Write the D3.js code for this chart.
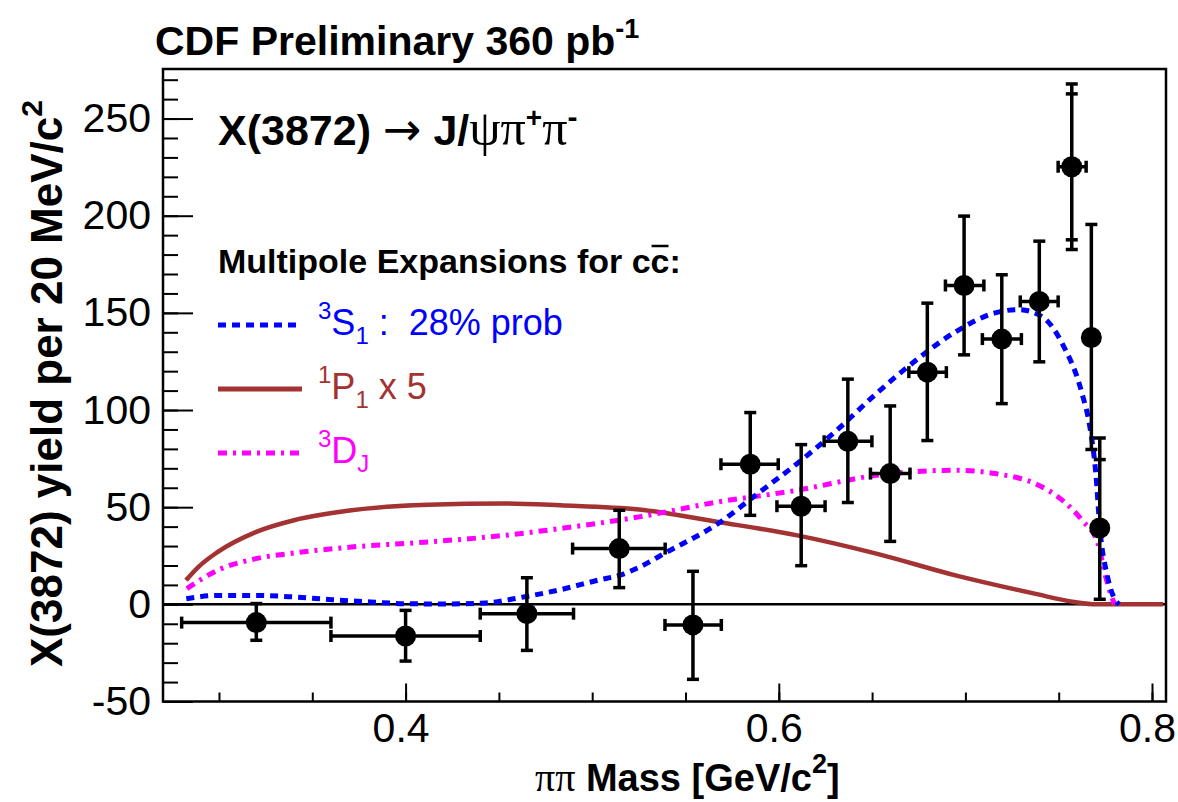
<!DOCTYPE html>
<html><head><meta charset="utf-8">
<script src="https://cdn.jsdelivr.net/npm/d3@7"></script>
<style>body{margin:0;background:#fff}svg{display:block}</style>
</head><body><svg id="chart" width="1178" height="802"></svg>
<script>
// ---- data ----
const massCenter = [0.32,0.40,0.465,0.5145,0.554,0.5847,0.612,0.637,0.6597,0.6796,0.6993,0.7195,0.7396,0.757,0.7675,0.772];
const massLow    = [0.28,0.36,0.44,0.4895,0.539,0.569,0.599,0.6243,0.6491,0.6697,0.6893,0.7091,0.7294,0.7497,0.7675,0.772];
const massHigh   = [0.36,0.44,0.49,0.5391,0.5692,0.5997,0.6248,0.6499,0.6703,0.6898,0.7099,0.73,0.7497,0.7647,0.7675,0.772];
const yieldVal   = [-9.4,-16.3,-4.8,28.7,-10.6,72.1,50.5,83.9,67.3,119.5,164.1,136.5,155.9,225.2,137.3,39.3];
const yieldLow   = [-18.5,-29.2,-23.7,8.6,-38.6,45.8,19.9,52.4,32.4,84.3,128.4,103.3,124.8,182.6,79.7,2.6];
const yieldHigh  = [0.4,-3.1,13.7,48.4,17,98.7,82.2,115.9,102.1,155,199.8,169.6,186.9,267.8,195.5,85.6];
const innerLow   = [null,null,null,null,null,null,null,null,null,null,null,null,null,187.6,null,null];
const innerHigh  = [null,null,null,null,null,null,null,null,null,null,null,null,null,262.7,null,74.5];

const s1Mass  = [0.2825,0.2992,0.3197,0.3402,0.3607,0.3812,0.4017,0.4222,0.4427,0.4632,0.4828,0.5042,0.5145,0.5248,0.54,0.5675,0.5887,0.6099,0.6311,0.6523,0.6735,0.6947,0.7159,0.7286,0.7413,0.7519,0.7625,0.7667,0.7699,0.772,0.7762,0.7804,0.7825];
const s1Yield = [2.9,4.6,4.6,3.8,2.4,1.2,0.3,0.2,0.7,3.8,7.5,12.7,14.9,18.9,26.9,41.6,57,72.5,89.6,108.5,125.6,140.2,150,151.7,147.9,134.2,108.5,91.3,67.3,39.8,14.1,2.1,0];

const p1Mass  = [0.2823,0.2889,0.2992,0.3197,0.3402,0.371,0.412,0.453,0.4828,0.5251,0.5675,0.6099,0.6523,0.6947,0.7371,0.7583,0.77,0.806];
const p1Yield = [12.4,19.2,26.9,37.2,43.3,48.4,51.3,51.9,51.0,48.8,42.4,35.5,26.1,14.9,5.5,1.2,0,0];

const dMass   = [0.2828,0.2992,0.3197,0.3402,0.371,0.412,0.453,0.4828,0.5251,0.5675,0.6099,0.6523,0.6947,0.7159,0.7371,0.7519,0.7625,0.771,0.7752,0.7784,0.78];
const dYield  = [8.1,17.5,23.5,26.4,29.5,32.1,35.5,39.0,45,52.7,58.7,66.4,69,67.3,62.2,53.6,43.3,31.3,14.1,3.8,0];

const yMajorTicks = [-50,0,50,100,150,200,250];
const xMajorTicks = [0.4,0.6,0.8];

// ---- layout ----
const W = 1178, H = 802;
const margin = {left:163, right:12, top:69, bottom:100.5};
const svg = d3.select("#chart");
svg.append("rect").attr("width",W).attr("height",H).attr("fill","#fff");

const x = d3.scaleLinear().domain([0.27,0.8075]).range([margin.left, W-margin.right]);
const y = d3.scaleLinear().domain([-50,275.5]).range([H-margin.bottom, margin.top]);

const SANS = "'Liberation Sans', Arial, Helvetica, sans-serif";
const SERIF = "'Liberation Serif', 'Times New Roman', serif";

// ---- axes ----
const yMinor = d3.range(-50, 276, 10);
const xMinor = d3.range(0.30, 0.8051, 0.05);

const gyMin = svg.append("g").attr("transform",`translate(${margin.left},0)`)
  .call(d3.axisLeft(y).tickValues(yMinor).tickSize(-15).tickFormat(""));
const gy = svg.append("g").attr("transform",`translate(${margin.left},0)`)
  .call(d3.axisLeft(y).tickValues(yMajorTicks).tickSize(-30).tickPadding(12).tickFormat(d=>String(d)));
const gxMin = svg.append("g").attr("transform",`translate(0,${H-margin.bottom})`)
  .call(d3.axisBottom(x).tickValues(xMinor).tickSize(-9).tickFormat(""));
const gx = svg.append("g").attr("transform",`translate(0,${H-margin.bottom})`)
  .call(d3.axisBottom(x).tickValues(xMajorTicks).tickSize(-18).tickPadding(11).tickFormat(d3.format(".1f")));
[gyMin,gy,gxMin,gx].forEach(g=>{
  g.select(".domain").remove();
  g.selectAll(".tick line").attr("stroke","#000").attr("stroke-width",2);
});
gy.selectAll(".tick text").attr("font-family",SANS).attr("font-size",41).attr("fill","#000").attr("dy","0.32em");
gx.selectAll(".tick text").attr("font-family",SANS).attr("font-size",41).attr("fill","#000").attr("dx",-5);

// frame
svg.append("rect").attr("x",margin.left).attr("y",margin.top)
  .attr("width",W-margin.left-margin.right).attr("height",H-margin.top-margin.bottom)
  .attr("fill","none").attr("stroke","#000").attr("stroke-width",2.5);

// zero line
svg.append("line").attr("x1",x(0.27)).attr("x2",x(0.8075)).attr("y1",y(0)).attr("y2",y(0))
  .attr("stroke","#000").attr("stroke-width",2.5);

// ---- curves ----
const line = d3.line().x(d=>x(d[0])).y(d=>y(d[1])).curve(d3.curveMonotoneX);
const BLUE="#0000ff", BROWN="#a33232", MAG="#ff00ff";
svg.append("path").datum(p1Mass.map((m,i)=>[m,p1Yield[i]])).attr("d",line)
  .attr("fill","none").attr("stroke",BROWN).attr("stroke-width",4.5);
svg.append("path").datum(dMass.map((m,i)=>[m,dYield[i]])).attr("d",line)
  .attr("fill","none").attr("stroke",MAG).attr("stroke-width",5).attr("stroke-dasharray","9,6,3,6");
svg.append("path").datum(s1Mass.map((m,i)=>[m,s1Yield[i]])).attr("d",line)
  .attr("fill","none").attr("stroke",BLUE).attr("stroke-width",5).attr("stroke-dasharray","8,6");

// ---- data points ----
const pts = massCenter.map((m,i)=>({m, lo:massLow[i], hi:massHigh[i], v:yieldVal[i], ylo:yieldLow[i], yhi:yieldHigh[i], ilo:innerLow[i], ihi:innerHigh[i]}));
const gp = svg.append("g").attr("stroke","#000").attr("stroke-width",3.5);
const cap = 6;
pts.forEach(p=>{
  const cx = x(p.m), cy = y(p.v);
  gp.append("line").attr("x1",cx).attr("x2",cx).attr("y1",y(p.ylo)).attr("y2",y(p.yhi));
  [p.ylo,p.yhi,p.ilo,p.ihi].forEach(v=>{ if(v!==null) gp.append("line").attr("x1",cx-cap).attr("x2",cx+cap).attr("y1",y(v)).attr("y2",y(v)); });
  if (p.hi > p.lo) {
    gp.append("line").attr("x1",x(p.lo)).attr("x2",x(p.hi)).attr("y1",cy).attr("y2",cy);
    [p.lo,p.hi].forEach(v=> gp.append("line").attr("x1",x(v)).attr("x2",x(v)).attr("y1",cy-cap).attr("y2",cy+cap));
  }
  svg.append("circle").attr("cx",cx).attr("cy",cy).attr("r",10.5).attr("fill","#000");
});

// ---- texts ----
function rich(parent, xPos, yPos, parts, base){
  const t = parent.append("text").attr("x",xPos).attr("y",yPos).attr("xml:space","preserve")
    .attr("font-family",SANS).attr("font-size",base.size).attr("font-weight",base.weight||"normal").attr("fill",base.fill||"#000");
  let shift = 0;
  parts.forEach(p=>{
    const ts = t.append("tspan").text(p.t);
    const target = p.dy||0;
    ts.attr("dy", target-shift); shift = target;
    if (p.size) ts.attr("font-size",p.size);
    if (p.family) ts.attr("font-family",p.family);
    if (p.weight) ts.attr("font-weight",p.weight);
  });
  return t;
}

// title
rich(svg,155,55,[{t:"CDF Preliminary 360 pb"},{t:"-1",size:27,dy:-17}],{size:41,weight:"bold"});

// process label
rich(svg,218,145,[
  {t:"X(3872) "},
  {t:"\u2192",family:"'DejaVu Sans', sans-serif",weight:"normal",size:46},
  {t:" J/"},
  {t:"\u03C8\u03C0",family:SERIF,weight:"normal",size:50},
  {t:"+",size:28,dy:-18},
  {t:"\u03C0",family:SERIF,weight:"normal",size:50},
  {t:"-",size:30,dy:-18}
],{size:43,weight:"bold"});

// legend header
const hdr = rich(svg,218,273,[{t:"Multipole Expansions for cc:"}],{size:34,weight:"bold"});
{
  const node = hdr.node();
  const n = node.getNumberOfChars();
  const s = node.getStartPositionOfChar(n-2), e = node.getEndPositionOfChar(n-2);
  svg.append("line").attr("x1",s.x+1).attr("x2",e.x-1).attr("y1",273-27).attr("y2",273-27)
    .attr("stroke","#000").attr("stroke-width",2.5);
}

// legend entries
const legendItems = [
  {y:325, color:BLUE, dash:"8,6", parts:[{t:"3",size:24,dy:-16},{t:"S"},{t:"1",size:24,dy:9},{t:" :  28% prob"}]},
  {y:389, color:BROWN, dash:null, parts:[{t:"1",size:24,dy:-16},{t:"P"},{t:"1",size:24,dy:9},{t:" x 5"}]},
  {y:453, color:MAG, dash:"9,6,3,6", parts:[{t:"3",size:24,dy:-16},{t:"D"},{t:"J",size:24,dy:9}]}
];
legendItems.forEach(it=>{
  const l = svg.append("line").attr("x1",218).attr("x2",302).attr("y1",it.y).attr("y2",it.y)
    .attr("stroke",it.color).attr("stroke-width",5);
  if (it.dash) l.attr("stroke-dasharray",it.dash);
  rich(svg,318,it.y+10,it.parts,{size:36,fill:it.color});
});

// axis titles
rich(svg,535,791,[
  {t:"\u03C0\u03C0",family:SERIF,weight:"normal",size:40},
  {t:" Mass [GeV/c"},
  {t:"2",size:27,dy:-18},
  {t:"]"}
],{size:38,weight:"bold"});

const yt = rich(svg,0,0,[{t:"X(3872) yield per 20 MeV/c"},{t:"2",size:30,dy:-20}],{size:44,weight:"bold"});
yt.attr("transform","translate(62,667) rotate(-90)");
</script></body></html>
